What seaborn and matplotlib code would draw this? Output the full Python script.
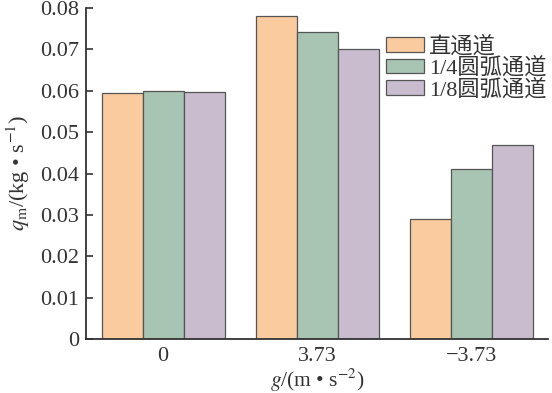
import pandas as pd
import matplotlib
matplotlib.use("Agg")
import matplotlib.pyplot as plt
import seaborn as sns

# gravity cases (x axis) and channel types (hue)
g_labels = ["0", "3.73", "\u22123.73"]
channels = ["直通道", "1/4圆弧通道", "1/8圆弧通道"]

# mass flow q_m, kg/s
q_straight = [0.0594, 0.0781, 0.0290]
q_quarter = [0.0599, 0.0741, 0.0410]
q_eighth = [0.0597, 0.0701, 0.0470]

colors = ["#FACB9E", "#A8C5B3", "#C9BCCF"]

sns.set_theme(style="ticks")
plt.rcParams['font.family'] = ['Liberation Serif', 'Noto Sans CJK SC']
plt.rcParams['mathtext.fontset'] = 'stix'

df = pd.DataFrame({
    "g": g_labels * 3,
    "channel": [channels[0]] * 3 + [channels[1]] * 3 + [channels[2]] * 3,
    "q": q_straight + q_quarter + q_eighth,
})

fig = plt.figure(figsize=(5.52, 3.93), dpi=100)
ax = fig.add_axes([0.156, 0.137, 0.837, 0.843])

sns.barplot(data=df, x="g", y="q", hue="channel", order=g_labels,
            hue_order=channels, palette=colors, width=0.8,
            edgecolor="#555555", linewidth=0.9, saturation=1, ax=ax)

ax.set_xlim(-0.5, 2.5)
ax.set_ylim(0, 0.08)
ax.set_yticks([i / 100 for i in range(9)])
ax.set_yticklabels(["0"] + [f"{i / 100:.2f}" for i in range(1, 9)])
ax.set_xticks(range(3))
ax.set_xticklabels(g_labels)

for s in ["top", "right"]:
    ax.spines[s].set_visible(False)
for s in ["left", "bottom"]:
    ax.spines[s].set_color("#333333")
    ax.spines[s].set_linewidth(1.3)
ax.tick_params(direction="in", length=5, width=1.2, color="#333333",
               labelsize=16, labelcolor="#333333")
ax.tick_params(axis="y", pad=5)
ax.tick_params(axis="x", pad=6)

ax.set_xlabel(r"$g$/(m • s$^{-2}$)", fontsize=15.5, color="#333333", labelpad=0)
ax.set_ylabel(r"$q_\mathrm{m}$/(kg • s$^{-1}$)", fontsize=16, color="#333333", labelpad=6)

ax.legend(loc="upper left", bbox_to_anchor=(0.650, 0.915), frameon=False,
          fontsize=16, handlelength=1.7, handleheight=0.62, handletextpad=0.2,
          labelspacing=0.0, borderpad=0, borderaxespad=0, title=None,
          labelcolor="#333333")

fig.savefig("out.png", dpi=100)
